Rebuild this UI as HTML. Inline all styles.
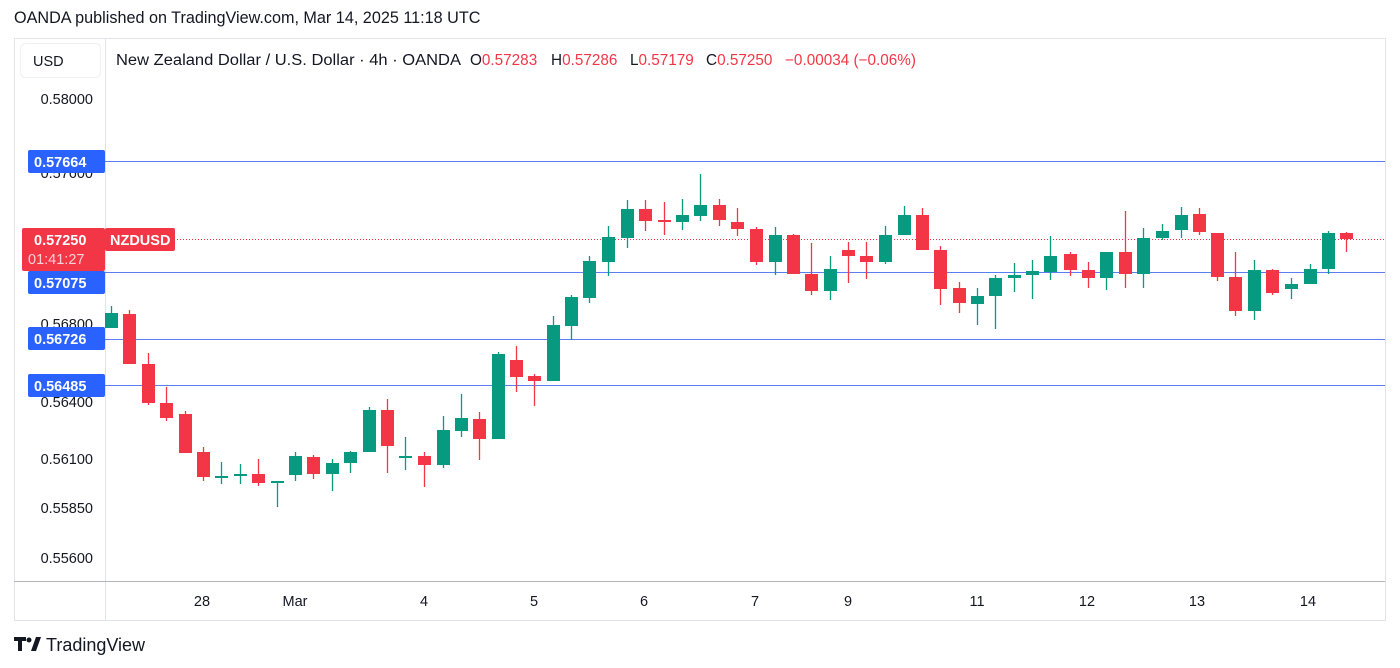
<!DOCTYPE html>
<html><head><meta charset="utf-8"><style>
body{margin:0;width:1400px;height:668px;background:#fff;font-family:"Liberation Sans",sans-serif;overflow:hidden;position:relative}
.t{position:absolute;white-space:nowrap}
</style></head><body>
<div class="t" style="left:14px;top:9px;font-size:16.2px;color:#131722">OANDA published on TradingView.com, Mar 14, 2025 11:18 UTC</div>
<svg width="1400" height="668" style="position:absolute;left:0;top:0" id="s">
<rect x="14.5" y="38.5" width="1371" height="582" fill="none" stroke="#e0e3eb"/>
<line x1="105.5" y1="38" x2="105.5" y2="620" stroke="#e0e3eb"/>
<line x1="14" y1="581.5" x2="1385" y2="581.5" stroke="#b2b5be"/>
<rect x="20.5" y="43.5" width="80" height="34" rx="5" fill="#fff" stroke="#eef0f3"/>
<text x="33" y="66" font-size="14.5" fill="#131722">USD</text>
<g font-size="15.3" fill="#131722">
<text x="116" y="65" textLength="345" lengthAdjust="spacingAndGlyphs">New Zealand Dollar / U.S. Dollar · 4h · OANDA</text>
<text x="470" y="65">O<tspan fill="#f23645">0.57283</tspan></text>
<text x="551" y="65">H<tspan fill="#f23645">0.57286</tspan></text>
<text x="630" y="65">L<tspan fill="#f23645">0.57179</tspan></text>
<text x="706" y="65">C<tspan fill="#f23645">0.57250</tspan></text>
<text x="785" y="65" fill="#f23645">−0.00034 (−0.06%)</text>
</g>
<g font-size="14.5" fill="#131722" text-anchor="end">
<text x="93" y="104">0.58000</text>
<text x="93" y="178">0.57600</text>
<text x="93" y="329">0.56800</text>
<text x="93" y="407">0.56400</text>
<text x="93" y="464">0.56100</text>
<text x="93" y="513">0.55850</text>
<text x="93" y="563">0.55600</text>
</g>
<g font-size="14.5" fill="#131722" text-anchor="middle">
<text x="202" y="606">28</text><text x="295" y="606">Mar</text><text x="424" y="606">4</text><text x="534" y="606">5</text><text x="644" y="606">6</text><text x="755" y="606">7</text><text x="848" y="606">9</text><text x="977" y="606">11</text><text x="1087" y="606">12</text><text x="1197" y="606">13</text><text x="1308" y="606">14</text>
</g>
<g stroke="#5b7ff0" stroke-width="1">
<line x1="105" y1="161.5" x2="1385" y2="161.5"/>
<line x1="105" y1="272.5" x2="1385" y2="272.5"/>
<line x1="105" y1="339.5" x2="1385" y2="339.5"/>
<line x1="105" y1="385.5" x2="1385" y2="385.5"/>
</g>
<line x1="105" y1="239.5" x2="1385" y2="239.5" stroke="#f23645" stroke-dasharray="1,2"/>
<g id="c"></g>
<g font-size="14.5" fill="#fff" font-weight="bold">
<rect x="28" y="150" width="77" height="23" rx="2" fill="#2962ff"/><text x="34" y="167">0.57664</text>
<rect x="28" y="271" width="77" height="23" rx="2" fill="#2962ff"/><text x="34" y="288">0.57075</text>
<rect x="28" y="327" width="77" height="23" rx="2" fill="#2962ff"/><text x="34" y="344">0.56726</text>
<rect x="28" y="374" width="77" height="23" rx="2" fill="#2962ff"/><text x="34" y="391">0.56485</text>
<rect x="22" y="228" width="83" height="43" rx="2" fill="#f23645"/><text x="34" y="245">0.57250</text>
<text x="28" y="264" font-weight="normal" fill="#fbd3d6">01:41:27</text>
<rect x="105" y="228" width="70" height="23" rx="2" fill="#f23645"/><text x="110" y="245">NZDUSD</text>
</g>
<g fill="#131722">
<path d="M14 637h12v4h-4v10h-4v-10h-4z"/><circle cx="29" cy="640" r="2.5"/><path d="M31 651l5-14h5l-5 14z"/>
</g>
<text x="46" y="651" font-size="18" fill="#131722">TradingView</text>
</svg>
<script>
var d=[[111,'g',313,328,306,328],[129,'r',314,364,310,364],[148,'r',364,403,353,405],[166,'r',403,418,387,421],[185,'r',414,453,411,453],[203,'r',452,477,447,481],[221,'g',476,477,462,484],[240,'g',474,476,464,484],[258,'r',474,483,459,486],[277,'g',481,482,481,507],[295,'g',456,475,452,481],[313,'r',457,474,455,479],[332,'g',463,474,459,491],[350,'g',452,463,451,473],[369,'g',410,452,407,452],[387,'r',410,446,399,473],[405,'g',456,457,437,470],[424,'r',456,465,452,487],[443,'g',430,465,416,468],[461,'g',418,431,394,437],[479,'r',419,439,412,460],[498,'g',354,439,352,439],[516,'r',360,377,346,392],[534,'r',376,381,374,406],[553,'g',325,381,316,381],[571,'g',297,326,295,340],[589,'g',261,298,256,303],[608,'g',237,262,226,276],[627,'g',209,238,200,248],[645,'r',209,221,200,231],[664,'r',220,222,202,235],[682,'g',215,222,199,230],[700,'g',205,216,174,221],[719,'r',205,220,199,226],[737,'r',222,229,208,236],[756,'r',229,262,227,265],[775,'g',235,262,227,275],[793,'r',235,274,234,274],[811,'r',274,291,243,295],[830,'g',269,291,256,300],[848,'r',250,256,242,283],[866,'r',256,262,242,279],[885,'g',235,262,226,264],[904,'g',215,235,206,235],[922,'r',215,250,208,250],[940,'r',250,289,246,305],[959,'r',288,303,282,313],[977,'g',296,304,288,325],[995,'g',278,296,275,329],[1014,'g',275,278,263,292],[1032,'g',271,275,260,299],[1050,'g',256,272,236,280],[1070,'r',254,270,252,276],[1088,'r',270,278,262,288],[1106,'g',252,278,252,290],[1125,'r',252,274,211,288],[1143,'g',238,274,228,288],[1162,'g',231,238,224,240],[1181,'g',215,230,207,238],[1199,'r',214,232,208,235],[1217,'r',233,277,233,281],[1235,'r',277,311,252,316],[1254,'g',270,311,260,320],[1272,'r',270,293,269,295],[1291,'g',284,289,278,299],[1310,'g',269,284,264,284],[1328,'g',233,269,231,274],[1346,'r',233,239,232,252]];
var h='';d.forEach(function(c){var col=c[1]=='g'?'#089981':'#f23645';var bh=Math.max(2,c[3]-c[2]);
h+='<line x1="'+(c[0]+.5)+'" y1="'+c[4]+'" x2="'+(c[0]+.5)+'" y2="'+c[5]+'" stroke="'+col+'" stroke-width="1.3"/>';
h+='<rect x="'+(c[0]-6)+'" y="'+c[2]+'" width="13" height="'+bh+'" fill="'+col+'"/>';});
document.getElementById('c').innerHTML=h;
</script>
</body></html>
